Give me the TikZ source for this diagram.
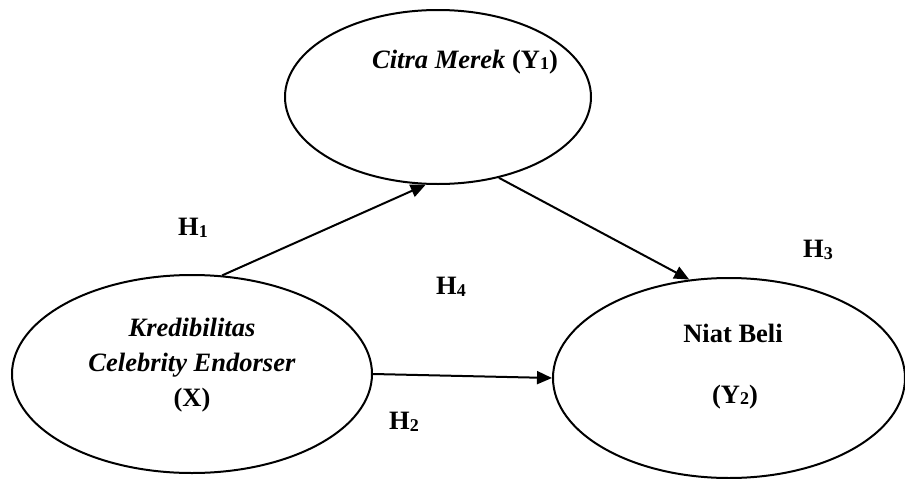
\documentclass[tikz,border=0pt]{standalone}
\usepackage{fontspec}
\setmainfont{Liberation Serif}
\usetikzlibrary{shapes.geometric,arrows.meta}
\newcommand{\subdig}[1]{\raisebox{-1.5pt}{\fontsize{18}{18}\selectfont #1}}
\begin{document}
\begin{tikzpicture}[x=1pt,y=-1pt,
  var/.style={draw,line width=2pt,ellipse,inner sep=0pt},
  lbl/.style={font=\fontsize{26.5}{35}\selectfont\bfseries,align=center,inner sep=0pt},
  hyp/.style={font=\fontsize{26.5}{30}\selectfont\bfseries,inner sep=0pt},
  link/.style={line width=2pt,-{Triangle[length=15pt,width=13pt]}}]
\useasboundingbox (0,0) rectangle (905,479);
\node[var,minimum width=306pt,minimum height=174pt] (Y1) at (438,97) {};
\node[var,minimum width=360pt,minimum height=198pt] (X) at (192,374) {};
\node[var,minimum width=352pt,minimum height=200pt] (Y2) at (729,378) {};
\node[lbl] (tY1) at (465,62) {\textit{Citra Merek} (Y\subdig{1})};
\node[lbl] (tX) at (192,365) {\textit{Kredibilitas}\\\textit{Celebrity Endorser}\\(X)};
\node[lbl] (tY2a) at (733,333) {Niat Beli};
\node[lbl] (tY2b) at (735,397) {(Y\subdig{2})};
\node[hyp] (h1) at (193,228) {H\subdig{1}};
\node[hyp] (h2) at (404,422) {H\subdig{2}};
\node[hyp] (h3) at (818,250) {H\subdig{3}};
\node[hyp] (h4) at (451,287) {H\subdig{4}};
\draw[link] (X.73) -- (Y1.262.7);
\draw[link] (Y1.-53.7) -- (Y2.112.5);
\draw[link] (X.0.3) -- (Y2.180.8);
\end{tikzpicture}
\end{document}
